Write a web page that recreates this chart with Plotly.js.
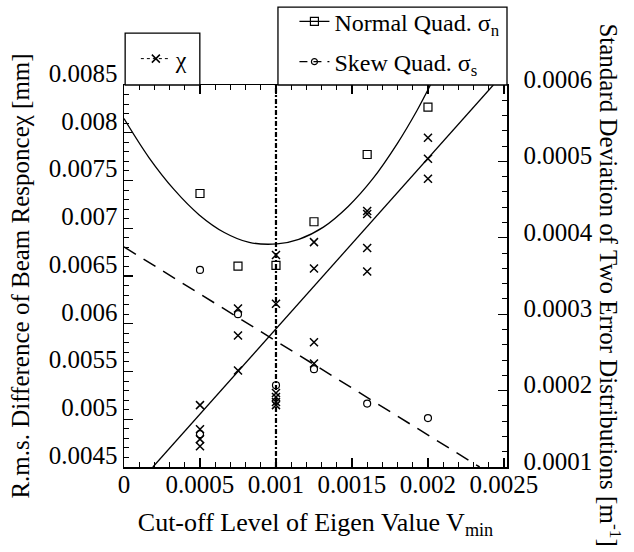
<!DOCTYPE html>
<html>
<head>
<meta charset="utf-8">
<script src="https://cdn.plot.ly/plotly-3.0.1.min.js"></script>
<style>
  html, body { margin: 0; padding: 0; background: #fff; }
  #chart { width: 634px; height: 552px; }
</style>
</head>
<body>
<div id="chart"></div>
<script>
// ---- Data ----
// chi : r.m.s. difference of beam response (left axis, mm)
const chiX = [0.0005, 0.0005, 0.0005, 0.0005,
              0.00075, 0.00075, 0.00075,
              0.001, 0.001, 0.001, 0.001, 0.001, 0.001,
              0.00125, 0.00125, 0.00125, 0.00125,
              0.0016, 0.0016, 0.0016, 0.0016,
              0.002, 0.002, 0.002];
const chiY = [0.005148, 0.004896, 0.004792, 0.004718,
              0.00616, 0.005877, 0.00551,
              0.00672, 0.00621, 0.005274, 0.005232, 0.00518, 0.005148,
              0.006855, 0.006579, 0.005806, 0.005583,
              0.00718, 0.00715, 0.006793, 0.006548,
              0.007947, 0.007727, 0.007518];

// Normal quad sigma_n (right axis)
const normalX = [0.0005, 0.00075, 0.001, 0.00125, 0.0016, 0.002];
const normalY = [0.000458, 0.000363, 0.000364, 0.000421, 0.000509, 0.000571];

// Skew quad sigma_s (right axis)
const skewX = [0.0005, 0.00075, 0.001, 0.00125, 0.0016, 0.002, 0.0005];
const skewY = [0.000358, 0.0003, 0.000207, 0.000228, 0.000183, 0.000164, 0.000143];

// Fitted lines
const chiFitX = [0.00019, 0.00243];
const chiFitY = [0.0045, 0.0085];
const skewFitX = [0, 0.00234];
const skewFitY = [0.000388, 0.0001];
const normalFitX = [0, 0.000164, 0.00033, 0.000495, 0.00066, 0.000824, 0.001007,
                    0.00115, 0.001312, 0.001475, 0.001636, 0.001797, 0.001926, 0.002016];
const normalFitY = [0.000556, 0.000505, 0.000463, 0.00043, 0.000407, 0.000394, 0.000392,
                    0.000398, 0.000414, 0.000441, 0.000477, 0.000523, 0.000566, 0.0006];
const cutoffX = [0.001, 0.001];
const cutoffY = [0.0045, 0.0085];

// Tick labels
const xTickVals = [0, 0.0005, 0.001, 0.0015, 0.002, 0.0025];
const xTickText = ['0', '0.0005', '0.001', '0.0015', '0.002', '0.0025'];
const yTickVals = [0.0045, 0.005, 0.0055, 0.006, 0.0065, 0.007, 0.0075, 0.008, 0.0085];
const yTickText = ['0.0045', '0.005', '0.0055', '0.006', '0.0065', '0.007', '0.0075', '0.008', '0.0085'];
const y2TickVals = [0.0001, 0.0002, 0.0003, 0.0004, 0.0005, 0.0006];
const y2TickText = ['0.0001', '0.0002', '0.0003', '0.0004', '0.0005', '0.0006'];

const FONT = 'Liberation Serif, Times New Roman, serif';
const BLACK = '#000';

const traces = [
  // vertical dash-dot line at the chosen cut-off
  { x: cutoffX, y: cutoffY, mode: 'lines', yaxis: 'y', showlegend: false,
    line: { color: BLACK, width: 2.2, dash: '5px,2px,2px,2px' }, hoverinfo: 'skip' },
  // chi fit line
  { x: chiFitX, y: chiFitY, mode: 'lines', yaxis: 'y', showlegend: false,
    line: { color: BLACK, width: 1.3 } },
  // normal quad fit curve
  { x: normalFitX, y: normalFitY, mode: 'lines', yaxis: 'y2', showlegend: false,
    line: { color: BLACK, width: 1.3, shape: 'spline', smoothing: 1 } },
  // skew quad fit line
  { x: skewFitX, y: skewFitY, mode: 'lines', yaxis: 'y2', showlegend: false,
    line: { color: BLACK, width: 1.5, dash: '14px,9px' } },
  // data markers
  { x: chiX, y: chiY, mode: 'markers', yaxis: 'y', showlegend: false,
    marker: { symbol: 'x-thin-open', size: 8, color: BLACK, line: { color: BLACK, width: 1.5 } } },
  { x: normalX, y: normalY, mode: 'markers', yaxis: 'y2', showlegend: false,
    marker: { symbol: 'square-open', size: 8, color: BLACK, line: { color: BLACK, width: 1.2 } } },
  { x: skewX, y: skewY, mode: 'markers', yaxis: 'y2', showlegend: false,
    marker: { symbol: 'circle-open', size: 7, color: BLACK, line: { color: BLACK, width: 1.2 } } },
  // legend entries
  { x: [null], y: [null], mode: 'lines+markers', yaxis: 'y', name: 'χ', legend: 'legend',
    line: { color: BLACK, width: 1, dash: 'dot' },
    marker: { symbol: 'x-thin-open', size: 8, color: BLACK, line: { color: BLACK, width: 1.5 } } },
  { x: [null], y: [null], mode: 'lines+markers', yaxis: 'y2', name: 'Normal Quad. σ<sub>n</sub>',
    legend: 'legend2', legendgroup: 'n',
    line: { color: BLACK, width: 1.2 },
    marker: { symbol: 'square-open', size: 8, color: BLACK, line: { color: BLACK, width: 1.2 } } },
  { x: [null], y: [null], mode: 'lines+markers', yaxis: 'y2', name: 'Skew Quad. σ<sub>s</sub>',
    legend: 'legend2', legendgroup: 's',
    line: { color: BLACK, width: 1.2, dash: '8px,6px' },
    marker: { symbol: 'circle-open', size: 6, color: BLACK, line: { color: BLACK, width: 1.2 } } }
];

const layout = {
  width: 634, height: 552,
  paper_bgcolor: '#fff', plot_bgcolor: '#fff',
  font: { family: FONT, size: 24, color: BLACK },
  margin: { l: 124, r: 127, t: 85, b: 85, autoexpand: false },
  showlegend: true,
  xaxis: {
    range: [0, 0.00252], showgrid: false, zeroline: false, automargin: false,
    showline: true, linecolor: BLACK, linewidth: 1.5, mirror: 'ticks',
    ticks: 'inside', ticklen: 9, tickwidth: 1.2, tickcolor: BLACK,
    tickmode: 'array', tickvals: xTickVals, ticktext: xTickText,
    tickfont: { family: FONT, size: 25 }, ticklabelstandoff: -6,
    minor: { tickmode: 'linear', tick0: 0, dtick: 0.0001, ticks: 'inside', ticklen: 5, tickwidth: 1, tickcolor: BLACK, showgrid: false },
    title: { text: 'Cut-off Level of Eigen Value V<sub>min</sub>', font: { family: FONT, size: 26 }, standoff: 16 }
  },
  yaxis: {
    range: [0.0045, 0.0085], showgrid: false, zeroline: false, automargin: false,
    showline: true, linecolor: BLACK, linewidth: 1.5, mirror: false,
    ticks: 'inside', ticklen: 9, tickwidth: 1.2, tickcolor: BLACK,
    tickmode: 'array', tickvals: yTickVals, ticktext: yTickText,
    tickfont: { family: FONT, size: 25 }, ticklabelshift: -12,
    minor: { tickmode: 'linear', tick0: 0.0045, dtick: 0.0001, ticks: 'inside', ticklen: 5, tickwidth: 1, tickcolor: BLACK, showgrid: false },
    title: { text: 'R.m.s. Difference of Beam Responceχ [mm]', font: { family: FONT, size: 25 }, standoff: 12 }
  },
  yaxis2: {
    overlaying: 'y', side: 'right', anchor: 'x', automargin: false,
    range: [0.0001, 0.0006], showgrid: false, zeroline: false,
    showline: true, linecolor: BLACK, linewidth: 1.5,
    ticks: 'inside', ticklen: 9, tickwidth: 1.2, tickcolor: BLACK,
    tickmode: 'array', tickvals: y2TickVals, ticktext: y2TickText,
    tickfont: { family: FONT, size: 25 }, ticklabelshift: -6, ticklabelstandoff: 10,
    minor: { tickmode: 'linear', tick0: 0.0001, dtick: 0.00002, ticks: 'inside', ticklen: 5, tickwidth: 1, tickcolor: BLACK, showgrid: false }
  },
  legend: {
    x: 0.031, xanchor: 'left', y: 1.068, yanchor: 'middle',
    bgcolor: 'rgba(0,0,0,0)', borderwidth: 0,
    font: { family: FONT, size: 24 }
  },
  legend2: {
    x: 0.445, xanchor: 'left', y: 1.113, yanchor: 'middle',
    bgcolor: 'rgba(0,0,0,0)', borderwidth: 0, tracegroupgap: 6,
    font: { family: FONT, size: 24 }
  },
  shapes: [
    { type: 'rect', xref: 'paper', yref: 'paper', x0: 0.003, x1: 0.198, y0: 1.0, y1: 1.136,
      line: { color: BLACK, width: 1.3 }, fillcolor: '#fff', layer: 'above' },
    { type: 'rect', xref: 'paper', yref: 'paper', x0: 0.402, x1: 1.0, y0: 1.0, y1: 1.204,
      line: { color: BLACK, width: 1.3 }, fillcolor: '#fff', layer: 'above' }
  ],
  annotations: [
    { text: 'Standard Deviation of Two Error Distributions [m<sup>-1</sup>]',
      xref: 'paper', yref: 'paper', x: 1.269, y: 0.478, textangle: 90,
      showarrow: false, font: { family: FONT, size: 25, color: BLACK },
      xanchor: 'center', yanchor: 'middle' }
  ]
};

Plotly.newPlot('chart', traces, layout, { displayModeBar: false, staticPlot: true });
</script>
</body>
</html>
